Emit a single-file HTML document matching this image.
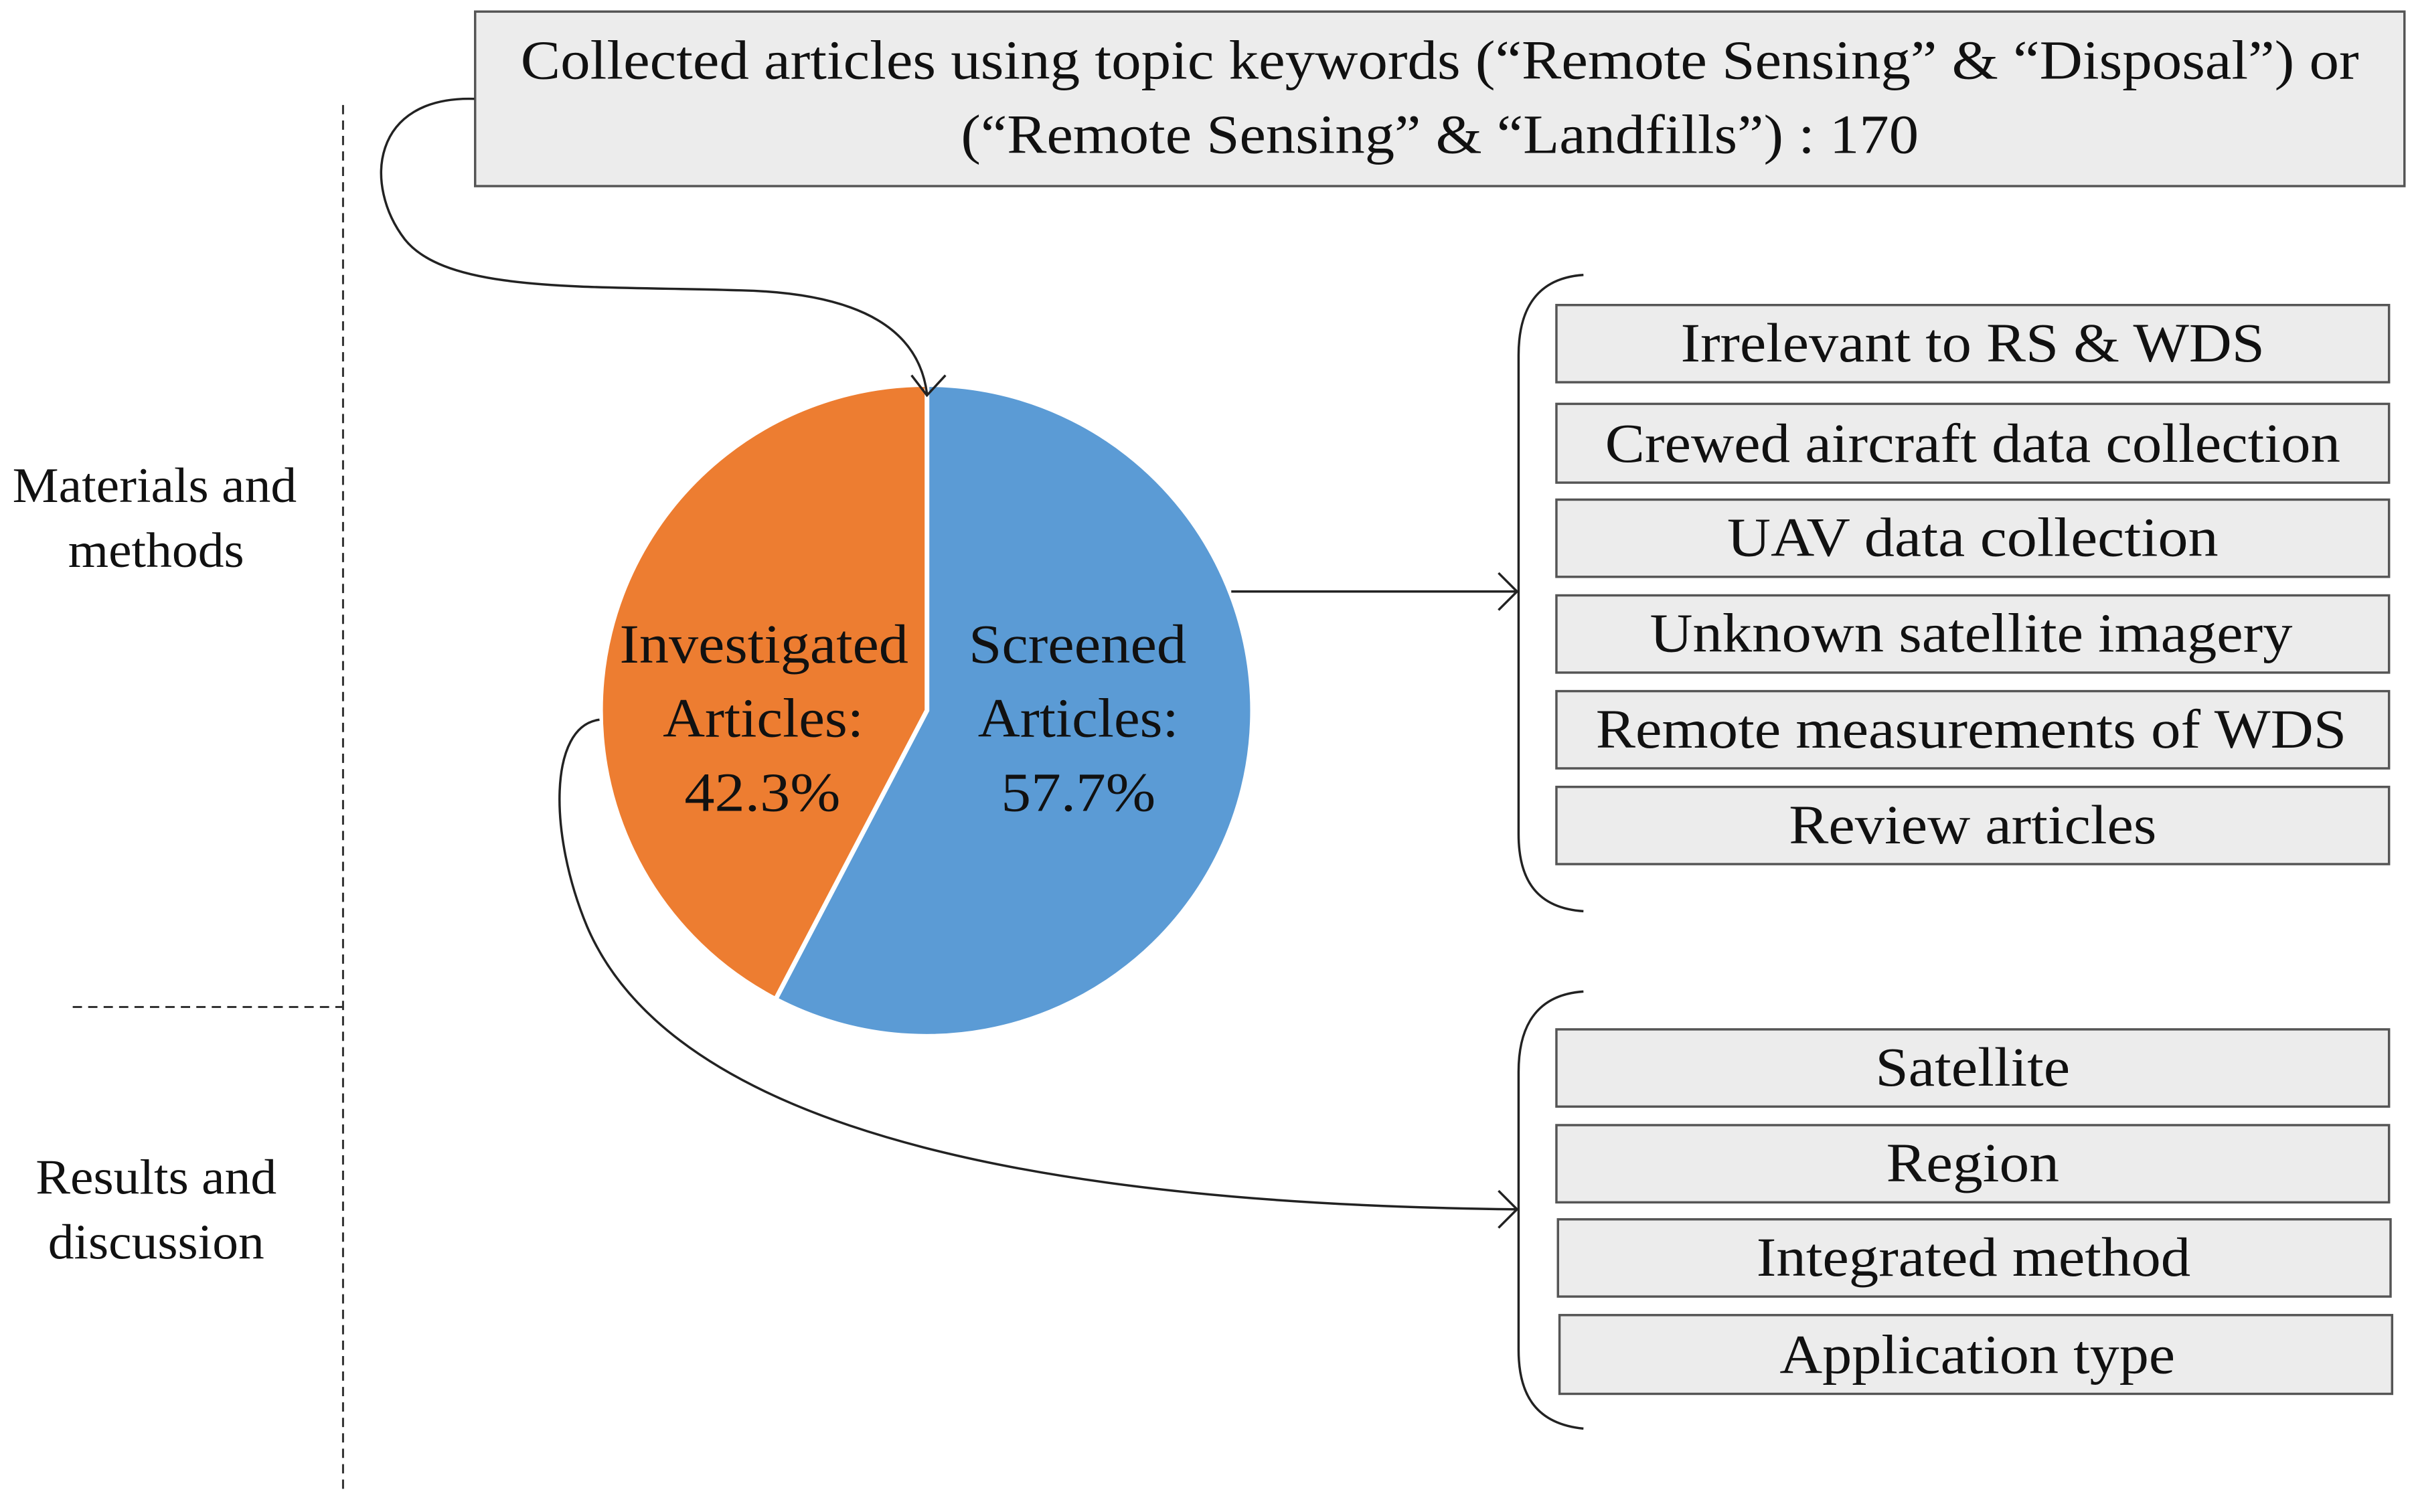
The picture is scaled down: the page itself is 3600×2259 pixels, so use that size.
<!DOCTYPE html>
<html><head><meta charset="utf-8"><style>html,body{margin:0;padding:0;background:#fff}svg{display:block}</style></head>
<body>
<svg width="3600" height="2259" viewBox="0 0 1560 979" xmlns="http://www.w3.org/2000/svg" font-family="'Liberation Serif', serif" fill="#111">
<rect width="1560" height="979" fill="#fff"/>
<rect x="307.5" y="7.5" width="1249" height="113" fill="#ececec" stroke="#555" stroke-width="1.5"/>
<g font-size="36" lengthAdjust="spacingAndGlyphs">
<text x="337" y="51" textLength="1190" lengthAdjust="spacingAndGlyphs">Collected articles using topic keywords (“Remote Sensing” &amp; “Disposal”) or</text>
<text x="622" y="99" textLength="620" lengthAdjust="spacingAndGlyphs">(“Remote Sensing” &amp; “Landfills”) : 170</text>
</g>
<line x1="222" y1="68" x2="222" y2="968" stroke="#333" stroke-width="1.3" stroke-dasharray="6,4"/>
<line x1="47" y1="652" x2="222" y2="652" stroke="#333" stroke-width="1.3" stroke-dasharray="6,4"/>
<g font-size="32">
<text x="8" y="325" textLength="184" lengthAdjust="spacingAndGlyphs">Materials and</text>
<text x="44" y="367" textLength="114" lengthAdjust="spacingAndGlyphs">methods</text>
<text x="23" y="773" textLength="156" lengthAdjust="spacingAndGlyphs">Results and</text>
<text x="31" y="815" textLength="140" lengthAdjust="spacingAndGlyphs">discussion</text>
</g>
<path d="M600,460 L600,249 A211,211 0 1 1 502,647 Z" fill="#5b9bd5" stroke="#fff" stroke-width="3"/>
<path d="M600,460 L502,647 A211,211 0 0 1 600,249 Z" fill="#ed7d31" stroke="#fff" stroke-width="3"/>
<g font-size="36">
<text x="401" y="429" textLength="187" lengthAdjust="spacingAndGlyphs">Investigated</text>
<text x="429" y="477" textLength="130" lengthAdjust="spacingAndGlyphs">Articles:</text>
<text x="443" y="525" textLength="101" lengthAdjust="spacingAndGlyphs">42.3%</text>
<text x="627" y="429" textLength="141" lengthAdjust="spacingAndGlyphs">Screened</text>
<text x="633" y="477" textLength="130" lengthAdjust="spacingAndGlyphs">Articles:</text>
<text x="648" y="525" textLength="100" lengthAdjust="spacingAndGlyphs">57.7%</text>
</g>
<g fill="none" stroke="#222" stroke-width="1.5">
<path d="M307,64 C240,62 235,120 262,155 C290,190 380,185 480,188 C560,190 595,215 600,255"/>
<path d="M590,243 L600,256 L612,243"/>
<path d="M797,383 L981,383"/>
<path d="M970,371 L982,383 L970,395"/>
<path d="M388,466 C355,470 355,540 380,600 C440,740 700,780 981,783"/>
<path d="M970,771 L982,783 L970,795"/>
<path d="M1025,178 C995,180 983,200 983,230 L983,540 C983,570 995,588 1025,590"/>
<path d="M1025,642 C995,644 983,664 983,694 L983,874 C983,904 995,922 1025,925"/>
</g>
<g fill="#ececec" stroke="#555" stroke-width="1.5">
<rect x="1007.5" y="197.5" width="539" height="50"/>
<rect x="1007.5" y="261.5" width="539" height="51"/>
<rect x="1007.5" y="323.5" width="539" height="50"/>
<rect x="1007.5" y="385.5" width="539" height="50"/>
<rect x="1007.5" y="447.5" width="539" height="50"/>
<rect x="1007.5" y="509.5" width="539" height="50"/>
<rect x="1007.5" y="666.5" width="539" height="50"/>
<rect x="1007.5" y="728.5" width="539" height="50"/>
<rect x="1008.5" y="789.5" width="539" height="50"/>
<rect x="1009.5" y="851.5" width="539" height="51"/>
</g>
<g font-size="36">
<text x="1088" y="234" textLength="378" lengthAdjust="spacingAndGlyphs">Irrelevant to RS &amp; WDS</text>
<text x="1039" y="299" textLength="476" lengthAdjust="spacingAndGlyphs">Crewed aircraft data collection</text>
<text x="1118" y="360" textLength="318" lengthAdjust="spacingAndGlyphs">UAV data collection</text>
<text x="1068" y="422" textLength="416" lengthAdjust="spacingAndGlyphs">Unknown satellite imagery</text>
<text x="1033" y="484" textLength="486" lengthAdjust="spacingAndGlyphs">Remote measurements of WDS</text>
<text x="1158" y="546" textLength="238" lengthAdjust="spacingAndGlyphs">Review articles</text>
<text x="1214" y="703" textLength="126" lengthAdjust="spacingAndGlyphs">Satellite</text>
<text x="1221" y="765" textLength="112" lengthAdjust="spacingAndGlyphs">Region</text>
<text x="1137" y="826" textLength="281" lengthAdjust="spacingAndGlyphs">Integrated method</text>
<text x="1152" y="889" textLength="256" lengthAdjust="spacingAndGlyphs">Application type</text>
</g>
</svg>
</body></html>
